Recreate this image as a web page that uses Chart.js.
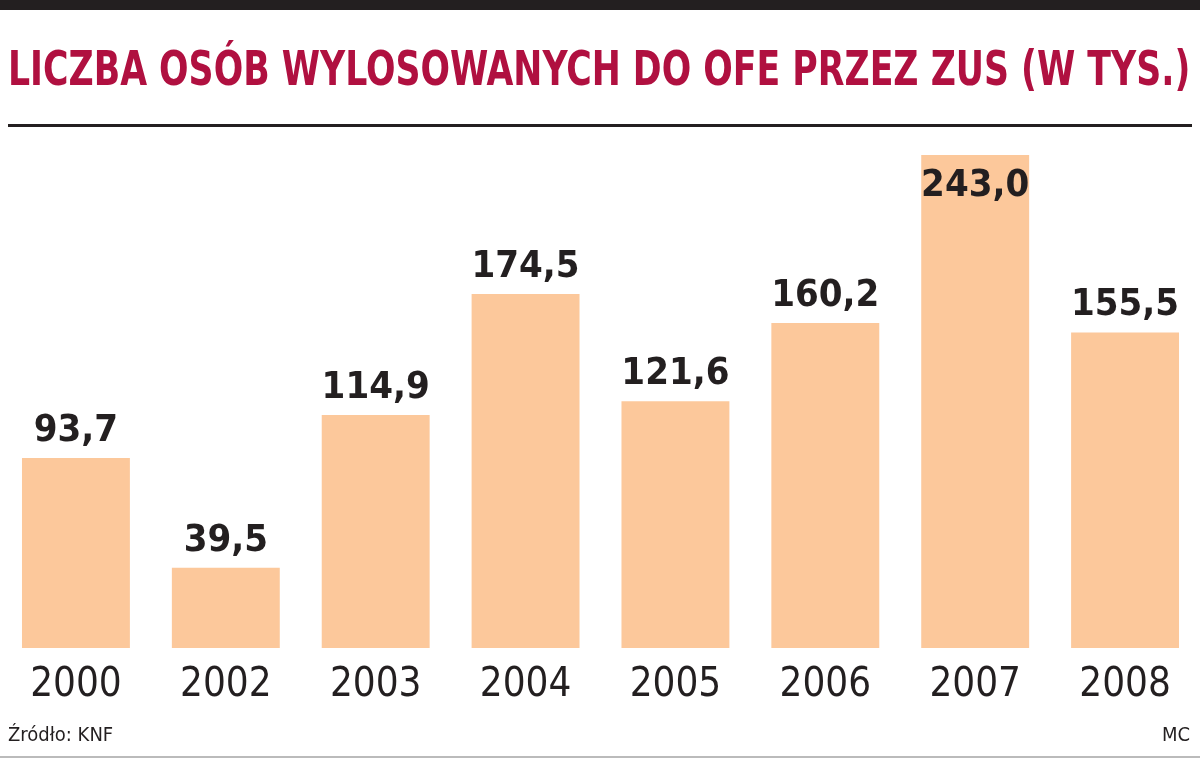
<!DOCTYPE html>
<html>
<head>
<meta charset="utf-8">
<script src="https://cdn.jsdelivr.net/npm/chart.js@4/dist/chart.umd.min.js"></script>
<style>
  body { margin: 0; background: #fff; }
  #wrap { position: relative; width: 1200px; height: 762px; overflow: hidden; }
  #topbar { position: absolute; left: 0; top: 0; width: 1200px; height: 10px; background: #231f20; }
  #tytul { position: absolute; left: 8px; top: 40px; font: bold 48px "Liberation Sans Narrow", "DejaVu Sans Condensed", sans-serif;
           color: #b01040; white-space: nowrap; transform-origin: left top; }
  #kreska { position: absolute; left: 8px; top: 124px; width: 1184px; height: 3px; background: #231f20; }
  #zrodlo { position: absolute; left: 8px; top: 722px; font: 20px "Liberation Sans Narrow", "DejaVu Sans Condensed", sans-serif; color: #231f20; }
  #mc { position: absolute; right: 10px; top: 722px; font: 20px "Liberation Sans Narrow", "DejaVu Sans Condensed", sans-serif; color: #231f20; }
  #dol { position: absolute; left: 0; top: 756px; width: 1200px; height: 2px; background: #bbb; }
  canvas { position: absolute; left: 0; top: 0; }
</style>
</head>
<body>
<div id="wrap">
  <canvas id="wykres" width="1200" height="762"></canvas>
  <div id="topbar"></div>
  <div id="tytul">LICZBA OSÓB WYLOSOWANYCH DO OFE PRZEZ ZUS (W TYS.)</div>
  <div id="kreska"></div>
  <div id="zrodlo">Źródło: KNF</div>
  <div id="mc">MC</div>
  <div id="dol"></div>
</div>
<script>
// dane
const lata = ["2000", "2002", "2003", "2004", "2005", "2006", "2007", "2008"];
const wylosowani = [93.7, 39.5, 114.9, 174.5, 121.6, 160.2, 243.0, 155.5];

const CZCIONKA = '"Liberation Sans Narrow", "DejaVu Sans Condensed", sans-serif';

// dopasowanie szerokosci tytulu
const tytul = document.getElementById("tytul");
tytul.style.transform = "scaleX(" + (1182 / tytul.offsetWidth) + ")";

// etykiety wartosci nad slupkami (najwyzszy slupek - etykieta w srodku)
const etykiety = {
    id: "etykiety",
    afterDatasetsDraw(chart) {
        const ctx = chart.ctx;
        ctx.save();
        ctx.font = "bold 38px " + CZCIONKA;
        ctx.fillStyle = "#231f20";
        ctx.textAlign = "center";
        chart.getDatasetMeta(0).data.forEach((bar, i) => {
            const tekst = wylosowani[i].toFixed(1).replace(".", ",");
            if (bar.y - 50 < 130) {
                ctx.textBaseline = "top";
                ctx.fillText(tekst, bar.x, bar.y + 12);
            } else {
                ctx.textBaseline = "bottom";
                ctx.fillText(tekst, bar.x, bar.y - 8);
            }
        });
        ctx.restore();
    }
};

new Chart(document.getElementById("wykres"), {
    type: "bar",
    data: {
        labels: lata,
        datasets: [{
            data: wylosowani,
            backgroundColor: "#fcc89b",
            barPercentage: 0.72,
            categoryPercentage: 1
        }]
    },
    options: {
        responsive: false,
        animation: false,
        layout: { padding: { top: 155, left: 1, right: 0, bottom: 0 } },
        plugins: { legend: { display: false }, tooltip: { enabled: false } },
        scales: {
            x: {
                grid: { display: false },
                border: { display: false },
                ticks: { color: "#231f20", font: { family: CZCIONKA, size: 40 }, padding: 6 },
                afterFit(scale) { scale.height = 762 - 648; }
            },
            y: {
                display: false,
                min: 0,
                max: 243
            }
        }
    },
    plugins: [etykiety]
});
</script>
</body>
</html>
